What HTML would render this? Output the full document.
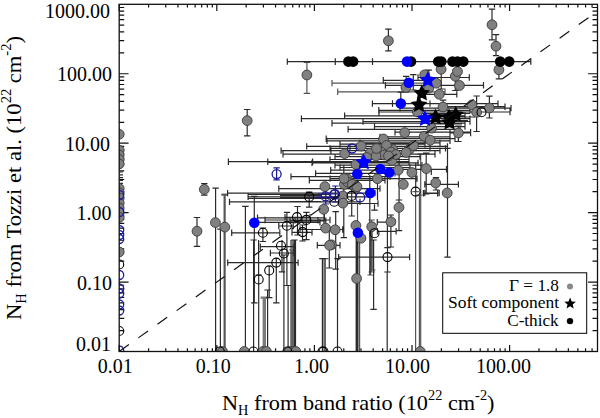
<!DOCTYPE html>
<html><head><meta charset="utf-8"><style>html,body{margin:0;padding:0;background:#fff;width:600px;height:418px;overflow:hidden}svg{display:block}</style></head>
<body><svg width="600" height="418" viewBox="0 0 600 418">
<defs><clipPath id="pc"><rect x="119.2" y="4.3" width="478.3" height="347.2"/></clipPath></defs>
<g font-family="Liberation Serif" fill="#000">
<path d="M119.20 351.5v-6.6M119.20 4.3v6.6M148.58 351.5v-3.3M148.58 4.3v3.3M165.77 351.5v-3.3M165.77 4.3v3.3M177.96 351.5v-3.3M177.96 4.3v3.3M187.42 351.5v-3.3M187.42 4.3v3.3M195.15 351.5v-3.3M195.15 4.3v3.3M201.68 351.5v-3.3M201.68 4.3v3.3M207.34 351.5v-3.3M207.34 4.3v3.3M212.33 351.5v-3.3M212.33 4.3v3.3M216.80 351.5v-6.6M216.80 4.3v6.6M246.18 351.5v-3.3M246.18 4.3v3.3M263.37 351.5v-3.3M263.37 4.3v3.3M275.56 351.5v-3.3M275.56 4.3v3.3M285.02 351.5v-3.3M285.02 4.3v3.3M292.75 351.5v-3.3M292.75 4.3v3.3M299.28 351.5v-3.3M299.28 4.3v3.3M304.94 351.5v-3.3M304.94 4.3v3.3M309.93 351.5v-3.3M309.93 4.3v3.3M314.40 351.5v-6.6M314.40 4.3v6.6M343.78 351.5v-3.3M343.78 4.3v3.3M360.97 351.5v-3.3M360.97 4.3v3.3M373.16 351.5v-3.3M373.16 4.3v3.3M382.62 351.5v-3.3M382.62 4.3v3.3M390.35 351.5v-3.3M390.35 4.3v3.3M396.88 351.5v-3.3M396.88 4.3v3.3M402.54 351.5v-3.3M402.54 4.3v3.3M407.53 351.5v-3.3M407.53 4.3v3.3M412.00 351.5v-6.6M412.00 4.3v6.6M441.38 351.5v-3.3M441.38 4.3v3.3M458.57 351.5v-3.3M458.57 4.3v3.3M470.76 351.5v-3.3M470.76 4.3v3.3M480.22 351.5v-3.3M480.22 4.3v3.3M487.95 351.5v-3.3M487.95 4.3v3.3M494.48 351.5v-3.3M494.48 4.3v3.3M500.14 351.5v-3.3M500.14 4.3v3.3M505.13 351.5v-3.3M505.13 4.3v3.3M509.60 351.5v-6.6M509.60 4.3v6.6M538.98 351.5v-3.3M538.98 4.3v3.3M556.17 351.5v-3.3M556.17 4.3v3.3M568.36 351.5v-3.3M568.36 4.3v3.3M577.82 351.5v-3.3M577.82 4.3v3.3M585.55 351.5v-3.3M585.55 4.3v3.3M592.08 351.5v-3.3M592.08 4.3v3.3M119.2 351.50h9.4M597.5 351.50h-9.4M119.2 330.60h5M597.5 330.60h-5M119.2 318.37h5M597.5 318.37h-5M119.2 309.69h5M597.5 309.69h-5M119.2 302.96h5M597.5 302.96h-5M119.2 297.47h5M597.5 297.47h-5M119.2 292.82h5M597.5 292.82h-5M119.2 288.79h5M597.5 288.79h-5M119.2 285.24h5M597.5 285.24h-5M119.2 282.06h9.4M597.5 282.06h-9.4M119.2 261.16h5M597.5 261.16h-5M119.2 248.93h5M597.5 248.93h-5M119.2 240.25h5M597.5 240.25h-5M119.2 233.52h5M597.5 233.52h-5M119.2 228.03h5M597.5 228.03h-5M119.2 223.38h5M597.5 223.38h-5M119.2 219.35h5M597.5 219.35h-5M119.2 215.80h5M597.5 215.80h-5M119.2 212.62h9.4M597.5 212.62h-9.4M119.2 191.72h5M597.5 191.72h-5M119.2 179.49h5M597.5 179.49h-5M119.2 170.81h5M597.5 170.81h-5M119.2 164.08h5M597.5 164.08h-5M119.2 158.59h5M597.5 158.59h-5M119.2 153.94h5M597.5 153.94h-5M119.2 149.91h5M597.5 149.91h-5M119.2 146.36h5M597.5 146.36h-5M119.2 143.18h9.4M597.5 143.18h-9.4M119.2 122.28h5M597.5 122.28h-5M119.2 110.05h5M597.5 110.05h-5M119.2 101.37h5M597.5 101.37h-5M119.2 94.64h5M597.5 94.64h-5M119.2 89.15h5M597.5 89.15h-5M119.2 84.50h5M597.5 84.50h-5M119.2 80.47h5M597.5 80.47h-5M119.2 76.92h5M597.5 76.92h-5M119.2 73.74h9.4M597.5 73.74h-9.4M119.2 52.84h5M597.5 52.84h-5M119.2 40.61h5M597.5 40.61h-5M119.2 31.93h5M597.5 31.93h-5M119.2 25.20h5M597.5 25.20h-5M119.2 19.71h5M597.5 19.71h-5M119.2 15.06h5M597.5 15.06h-5M119.2 11.03h5M597.5 11.03h-5M119.2 7.48h5M597.5 7.48h-5" stroke="#111" stroke-width="1.2" fill="none"/>
<g clip-path="url(#pc)"><path d="M224.6 194.6V351.5M221.4 194.6h6.4M264.8 297.6V351.5M261.6 297.6h6.4M263.8 297.6V351.5M260.6 297.6h6.4M291.3 240.0V351.5M293.5 240.0V351.5" stroke="#7a7a7a" stroke-width="2.4" fill="none"/>
<path d="M306.9 62.4V93.3M303.7 62.4h6.4M303.7 93.3h6.4M332.0 83.1H440.0M332.0 79.9v6.4M440.0 79.9v6.4M337.7 91.8H445.0M337.7 88.6v6.4M445.0 88.6v6.4M224.6 194.6V351.5M221.4 194.6h6.4M371.7 220.0V272.0M368.5 220.0h6.4M368.5 272.0h6.4M415.6 191.6V351.5M412.4 191.6h6.4M419.4 195.0V351.5M416.2 195.0h6.4M359.6 240.0V351.5M356.4 240.0h6.4M292.1 250.0V351.5M288.9 250.0h6.4M325.3 258.7V351.5M322.1 258.7h6.4M357.5 203.0V351.5M420.7 154.0V351.5M417.5 154.0h6.4M324.0 258.7V351.5M370.6 226.0V275.0M367.4 275.0h6.4M372.2 226.0V270.0M369.0 270.0h6.4" stroke="#555" stroke-width="1.2" fill="none"/>
<path d="M388.4 29.1V50.9M385.2 29.1h6.4M385.2 50.9h6.4M492.0 9.1V39.9M488.8 9.1h6.4M488.8 39.9h6.4M496.0 34.6V55.6M492.8 34.6h6.4M492.8 55.6h6.4M287.3 61.6H530.8M287.3 58.4v6.4M530.8 58.4v6.4M335.3 58.3V64.9M372.5 58.3V64.9M441.2 69.0V89.0M438.0 69.0h6.4M438.0 89.0h6.4M455.3 70.0V90.5M452.1 70.0h6.4M452.1 90.5h6.4M406.2 76.3V92.0M403.0 76.3h6.4M403.0 92.0h6.4M498.9 62.0V78.8M495.7 62.0h6.4M495.7 78.8h6.4M418.0 77.5H469.3M418.0 74.3v6.4M469.3 74.3v6.4M383.3 80.3H430.0M383.3 77.1v6.4M430.0 77.1v6.4M385.4 85.3H483.5M385.4 82.1v6.4M483.5 82.1v6.4M420.0 94.4H456.8M420.0 91.2v6.4M456.8 91.2v6.4M413.3 74.7V90.0M410.1 74.7h6.4M410.1 90.0h6.4M428.7 70.1V80.0M425.5 70.1h6.4M425.5 80.0h6.4M400.8 92.2V103.0M397.6 92.2h6.4M372.4 103.6H430.0M372.4 100.4v6.4M430.0 100.4v6.4M392.5 100.3V106.9M378.8 110.3H470.0M378.8 107.1v6.4M470.0 107.1v6.4M443.1 100.2V112.0M439.9 100.2h6.4M439.9 112.0h6.4M476.6 96.0V131.5M473.4 96.0h6.4M473.4 131.5h6.4M489.4 96.2V118.0M486.2 96.2h6.4M486.2 118.0h6.4M430.0 103.6H498.0M430.0 100.4v6.4M498.0 100.4v6.4M440.0 106.7H505.0M440.0 103.5v6.4M505.0 103.5v6.4M247.2 109.5V135.9M244.0 109.5h6.4M244.0 135.9h6.4M204.3 183.6V195.2M201.1 183.6h6.4M201.1 195.2h6.4M197.0 217.5V246.3M193.8 217.5h6.4M193.8 246.3h6.4M215.6 188.1V351.5M212.4 188.1h6.4M220.4 229.2V351.5M217.2 229.2h6.4M254.3 196.4V302.8M251.1 196.4h6.4M251.1 302.8h6.4M245.4 206.4V351.5M242.2 206.4h6.4M301.4 118.7H470.0M301.4 115.5v6.4M470.0 115.5v6.4M332.0 123.2H465.0M332.0 120.0v6.4M465.0 120.0v6.4M348.1 129.3H460.0M348.1 126.1v6.4M460.0 126.1v6.4M326.2 138.7H455.0M326.2 135.5v6.4M455.0 135.5v6.4M327.0 140.9H450.0M327.0 137.7v6.4M450.0 137.7v6.4M306.7 146.4H447.5M306.7 143.2v6.4M447.5 143.2v6.4M281.1 150.6H440.0M281.1 147.4v6.4M440.0 147.4v6.4M330.9 147.3V153.9M283.0 154.2H435.0M283.0 151.0v6.4M435.0 151.0v6.4M228.4 161.7H409.0M228.4 158.5v6.4M409.0 158.5v6.4M267.8 158.4V165.0M312.6 158.4V165.0M312.0 162.9H418.0M312.0 159.7v6.4M418.0 159.7v6.4M330.7 170.2H400.0M330.7 167.0v6.4M400.0 167.0v6.4M315.6 173.4H395.0M315.6 170.2v6.4M395.0 170.2v6.4M291.0 176.6H390.0M291.0 173.4v6.4M390.0 173.4v6.4M330.0 178.6H417.0M330.0 175.4v6.4M417.0 175.4v6.4M309.3 180.4H385.0M309.3 177.2v6.4M385.0 177.2v6.4M278.8 188.6H380.0M278.8 185.4v6.4M380.0 185.4v6.4M227.6 193.1H375.0M227.6 189.9v6.4M375.0 189.9v6.4M248.1 196.8H370.0M248.1 193.6v6.4M370.0 193.6v6.4M229.5 201.9H360.0M229.5 198.7v6.4M360.0 198.7v6.4M340.0 203.5H378.0M340.0 200.3v6.4M378.0 200.3v6.4M400.0 169.3H446.5M400.0 166.1v6.4M446.5 166.1v6.4M330.0 148.4H445.5M330.0 145.2v6.4M445.5 145.2v6.4M344.6 115.8H465.0M344.6 112.6v6.4M465.0 112.6v6.4M379.0 112.0H510.0M379.0 108.8v6.4M510.0 108.8v6.4M400.0 108.1H511.0M400.0 104.9v6.4M511.0 104.9v6.4M363.0 121.5H470.0M363.0 118.3v6.4M470.0 118.3v6.4M395.0 132.2H470.6M395.0 129.0v6.4M470.6 129.0v6.4M374.5 126.6H465.0M374.5 123.4v6.4M465.0 123.4v6.4M380.0 136.9H450.0M380.0 133.7v6.4M450.0 133.7v6.4M360.0 142.9H440.0M360.0 139.7v6.4M440.0 139.7v6.4M350.0 148.3H430.0M350.0 145.1v6.4M430.0 145.1v6.4M340.0 144.2H425.0M340.0 141.0v6.4M425.0 141.0v6.4M335.0 156.6H420.0M335.0 153.4v6.4M420.0 153.4v6.4M330.0 159.5H409.0M330.0 156.3v6.4M409.0 156.3v6.4M335.0 165.2H422.0M335.0 162.0v6.4M422.0 162.0v6.4M340.0 167.5H410.0M340.0 164.3v6.4M410.0 164.3v6.4M458.4 126.0V141.5M455.2 126.0h6.4M455.2 141.5h6.4M450.0 133.0H470.6M450.0 129.8v6.4M470.6 129.8v6.4M399.0 200.0V230.7M395.8 200.0h6.4M395.8 230.7h6.4M390.9 215.0V247.0M387.7 215.0h6.4M387.7 247.0h6.4M447.5 148.4V257.1M444.3 148.4h6.4M444.3 257.1h6.4M338.6 257.1H409.6M338.6 253.9v6.4M409.6 253.9v6.4M357.9 232.7V351.5M354.7 232.7h6.4M343.8 165.0V237.6M340.6 165.0h6.4M340.6 237.6h6.4M335.7 211.7V269.2M332.5 211.7h6.4M332.5 269.2h6.4M387.5 247.6V272.0M384.3 247.6h6.4M384.3 272.0h6.4M373.6 240.0V309.3M370.4 240.0h6.4M370.4 309.3h6.4M377.4 231.3H396.1M377.4 228.1v6.4M396.1 228.1v6.4M424.8 184.4H458.4M424.8 181.2v6.4M458.4 181.2v6.4M424.8 193.0H439.2M424.8 189.8v6.4M439.2 189.8v6.4M258.7 275.0V351.5M255.5 275.0h6.4M276.3 258.0V302.8M273.1 302.8h6.4M269.2 266.0V297.6M266.0 297.6h6.4M262.9 228.0V241.5M259.7 228.0h6.4M259.7 241.5h6.4M286.9 212.3V285.5M283.7 212.3h6.4M283.7 285.5h6.4M231.7 232.8H279.8M231.7 229.6v6.4M279.8 229.6v6.4M227.7 262.6H298.1M227.7 259.4v6.4M298.1 259.4v6.4M257.5 217.8H324.4M257.5 214.6v6.4M324.4 214.6v6.4M265.0 220.0H330.0M265.0 216.8v6.4M330.0 216.8v6.4M257.5 222.3H320.0M257.5 219.1v6.4M320.0 219.1v6.4M253.6 240.0V351.5M250.4 240.0h6.4M267.6 290.0V351.5M264.4 290.0h6.4M283.9 255.0V351.5M280.7 255.0h6.4M288.1 285.5V351.5M284.9 285.5h6.4M294.4 240.0V351.5M291.2 240.0h6.4M322.4 258.7V351.5M319.2 258.7h6.4M337.5 258.7V351.5M334.3 258.7h6.4M356.8 232.0V351.5M353.6 232.0h6.4M356.2 232.0V351.5M353.0 232.0h6.4M351.7 189.0V216.0M348.5 189.0h6.4M348.5 216.0h6.4M369.8 175.0V275.0M374.5 204.3V210.2M371.3 210.2h6.4M377.5 180.0V200.0M387.4 175.0V247.0M399.1 150.0V200.0M415.7 163.0V191.6M412.5 163.0h6.4M426.2 153.0V194.0M423.0 153.0h6.4M423.0 194.0h6.4M431.3 170.0V175.0M436.0 177.7V190.0M432.8 177.7h6.4M432.8 190.0h6.4M423.4 193.3H437.6M423.4 190.1v6.4M437.6 190.1v6.4M258.6 240.0V275.0M282.0 240.0V271.8M278.8 271.8h6.4M270.4 253.0H293.8M270.4 249.8v6.4M293.8 249.8v6.4M260.3 246.7H293.8M260.3 243.5v6.4M293.8 243.5v6.4M317.3 245.3H340.0M317.3 242.1v6.4M340.0 242.1v6.4M300.0 229.5H342.7M300.0 226.3v6.4M342.7 226.3v6.4M377.3 222.1H394.7M377.3 218.9v6.4M394.7 218.9v6.4M329.3 230.0V268.0M326.1 230.0h6.4M326.1 268.0h6.4M295.5 240.0V351.5M420.0 113.5H470.0M425.0 117.0H475.0M428.0 120.5H468.0M432.0 124.0H462.0M387.2 272.0V351.5M267.8 162.4H409.0M119.2 172.0H123.0M119.2 174.8H123.0M119.2 177.7H123.0M119.2 180.5H123.0M119.2 183.4H123.0M280.0 195.5H322.0M280.0 198.0H322.0M309.2 192.0V207.1M306.0 192.0h6.4M306.0 207.1h6.4M290.0 201.7H321.0M290.0 220.8H325.8M290.0 217.6v6.4M325.8 217.6v6.4M324.0 209.5V227.4M297.5 206.5V235.0M294.3 206.5h6.4M294.3 235.0h6.4M306.4 212.3V239.6M303.2 212.3h6.4M303.2 239.6h6.4M302.5 225.0V241.0M299.3 225.0h6.4M299.3 241.0h6.4M285.0 217.3H310.0M285.0 214.1v6.4M310.0 214.1v6.4M295.0 220.2H318.0M295.0 217.0v6.4M318.0 217.0v6.4M278.8 226.0H293.2M278.8 222.8v6.4M293.2 222.8v6.4M292.0 232.4H312.0M292.0 229.2v6.4M312.0 229.2v6.4M248.6 194.5H330.0M248.6 198.5H330.0" stroke="#2a2a2a" stroke-width="1.2" fill="none"/>
<path d="M276.6 167.8V179.9M273.4 167.8h6.4M273.4 179.9h6.4M318.0 194.0H345.0M316.0 197.3H340.0M325.8 188.0V204.0M322.6 188.0h6.4M322.6 204.0h6.4M335.4 186.0V202.0M332.2 186.0h6.4M332.2 202.0h6.4" stroke="#1a1a8a" stroke-width="1.2" fill="none"/>
<circle cx="388.4" cy="40.8" r="4.9" fill="#808080" stroke="#3a3a3a" stroke-width="0.9"/><circle cx="492" cy="24.8" r="4.9" fill="#808080" stroke="#3a3a3a" stroke-width="0.9"/><circle cx="496" cy="46.2" r="4.9" fill="#808080" stroke="#3a3a3a" stroke-width="0.9"/><circle cx="306.9" cy="75.0" r="4.9" fill="#808080" stroke="#3a3a3a" stroke-width="0.9"/><circle cx="441.1" cy="69.3" r="4.9" fill="#808080" stroke="#3a3a3a" stroke-width="0.9"/><circle cx="455.3" cy="76.2" r="4.9" fill="#808080" stroke="#3a3a3a" stroke-width="0.9"/><circle cx="459.5" cy="85.5" r="4.9" fill="#808080" stroke="#3a3a3a" stroke-width="0.9"/><circle cx="436.3" cy="83.2" r="4.9" fill="#808080" stroke="#3a3a3a" stroke-width="0.9"/><circle cx="439.3" cy="94.3" r="4.9" fill="#808080" stroke="#3a3a3a" stroke-width="0.9"/><circle cx="424.7" cy="74.8" r="4.9" fill="#808080" stroke="#3a3a3a" stroke-width="0.9"/><circle cx="428.7" cy="88.2" r="4.9" fill="#808080" stroke="#3a3a3a" stroke-width="0.9"/><circle cx="405.9" cy="87.5" r="4.9" fill="#808080" stroke="#3a3a3a" stroke-width="0.9"/><circle cx="498.9" cy="69.8" r="4.9" fill="#808080" stroke="#3a3a3a" stroke-width="0.9"/><circle cx="443" cy="107" r="4.9" fill="#808080" stroke="#3a3a3a" stroke-width="0.9"/><circle cx="471.9" cy="104.9" r="4.9" fill="#808080" stroke="#3a3a3a" stroke-width="0.9"/><circle cx="476.6" cy="112.3" r="4.9" fill="#808080" stroke="#3a3a3a" stroke-width="0.9"/><circle cx="489.4" cy="108" r="4.9" fill="#808080" stroke="#3a3a3a" stroke-width="0.9"/><circle cx="417.4" cy="112" r="4.9" fill="#808080" stroke="#3a3a3a" stroke-width="0.9"/><circle cx="119.2" cy="134.3" r="4.9" fill="#808080" stroke="#3a3a3a" stroke-width="0.9"/><circle cx="119.2" cy="150.3" r="4.9" fill="#808080" stroke="#3a3a3a" stroke-width="0.9"/><circle cx="119.2" cy="155" r="4.9" fill="#808080" stroke="#3a3a3a" stroke-width="0.9"/><circle cx="119.2" cy="159.5" r="4.9" fill="#808080" stroke="#3a3a3a" stroke-width="0.9"/><circle cx="119.2" cy="164" r="4.9" fill="#808080" stroke="#3a3a3a" stroke-width="0.9"/><circle cx="119.2" cy="188.5" r="4.9" fill="#808080" stroke="#3a3a3a" stroke-width="0.9"/><circle cx="119.2" cy="193" r="4.9" fill="#808080" stroke="#3a3a3a" stroke-width="0.9"/><circle cx="119.2" cy="198" r="4.9" fill="#808080" stroke="#3a3a3a" stroke-width="0.9"/><circle cx="119.2" cy="203" r="4.9" fill="#808080" stroke="#3a3a3a" stroke-width="0.9"/><circle cx="119.2" cy="208" r="4.9" fill="#808080" stroke="#3a3a3a" stroke-width="0.9"/><circle cx="119.2" cy="212.5" r="4.9" fill="#808080" stroke="#3a3a3a" stroke-width="0.9"/><circle cx="119.2" cy="217.5" r="4.9" fill="#808080" stroke="#3a3a3a" stroke-width="0.9"/><circle cx="119.2" cy="252" r="4.9" fill="#808080" stroke="#3a3a3a" stroke-width="0.9"/><circle cx="247.2" cy="120.6" r="4.9" fill="#808080" stroke="#3a3a3a" stroke-width="0.9"/><circle cx="204.3" cy="189.4" r="4.9" fill="#808080" stroke="#3a3a3a" stroke-width="0.9"/><circle cx="197" cy="231.2" r="4.9" fill="#808080" stroke="#3a3a3a" stroke-width="0.9"/><circle cx="215.4" cy="222.6" r="4.9" fill="#808080" stroke="#3a3a3a" stroke-width="0.9"/><circle cx="224.8" cy="227.1" r="4.9" fill="#808080" stroke="#3a3a3a" stroke-width="0.9"/><circle cx="431.6" cy="128.2" r="4.9" fill="#808080" stroke="#3a3a3a" stroke-width="0.9"/><circle cx="424.2" cy="136.2" r="4.9" fill="#808080" stroke="#3a3a3a" stroke-width="0.9"/><circle cx="430.2" cy="140.2" r="4.9" fill="#808080" stroke="#3a3a3a" stroke-width="0.9"/><circle cx="404.7" cy="132.6" r="4.9" fill="#808080" stroke="#3a3a3a" stroke-width="0.9"/><circle cx="458.4" cy="133" r="4.9" fill="#808080" stroke="#3a3a3a" stroke-width="0.9"/><circle cx="392.7" cy="149.6" r="4.9" fill="#808080" stroke="#3a3a3a" stroke-width="0.9"/><circle cx="409.4" cy="149.5" r="4.9" fill="#808080" stroke="#3a3a3a" stroke-width="0.9"/><circle cx="413.5" cy="145.6" r="4.9" fill="#808080" stroke="#3a3a3a" stroke-width="0.9"/><circle cx="344.7" cy="153.6" r="4.9" fill="#808080" stroke="#3a3a3a" stroke-width="0.9"/><circle cx="361.2" cy="146.1" r="4.9" fill="#808080" stroke="#3a3a3a" stroke-width="0.9"/><circle cx="370.2" cy="153.1" r="4.9" fill="#808080" stroke="#3a3a3a" stroke-width="0.9"/><circle cx="383.5" cy="139" r="4.9" fill="#808080" stroke="#3a3a3a" stroke-width="0.9"/><circle cx="386.5" cy="145.5" r="4.9" fill="#808080" stroke="#3a3a3a" stroke-width="0.9"/><circle cx="381.3" cy="152.1" r="4.9" fill="#808080" stroke="#3a3a3a" stroke-width="0.9"/><circle cx="384.3" cy="155" r="4.9" fill="#808080" stroke="#3a3a3a" stroke-width="0.9"/><circle cx="376" cy="156" r="4.9" fill="#808080" stroke="#3a3a3a" stroke-width="0.9"/><circle cx="356" cy="164.5" r="4.9" fill="#808080" stroke="#3a3a3a" stroke-width="0.9"/><circle cx="398.3" cy="170.1" r="4.9" fill="#808080" stroke="#3a3a3a" stroke-width="0.9"/><circle cx="411.9" cy="172.5" r="4.9" fill="#808080" stroke="#3a3a3a" stroke-width="0.9"/><circle cx="426.3" cy="168.6" r="4.9" fill="#808080" stroke="#3a3a3a" stroke-width="0.9"/><circle cx="403.3" cy="184.4" r="4.9" fill="#808080" stroke="#3a3a3a" stroke-width="0.9"/><circle cx="435.7" cy="183" r="4.9" fill="#808080" stroke="#3a3a3a" stroke-width="0.9"/><circle cx="447.2" cy="193" r="4.9" fill="#808080" stroke="#3a3a3a" stroke-width="0.9"/><circle cx="377.4" cy="178.7" r="4.9" fill="#808080" stroke="#3a3a3a" stroke-width="0.9"/><circle cx="347.2" cy="178.7" r="4.9" fill="#808080" stroke="#3a3a3a" stroke-width="0.9"/><circle cx="344.4" cy="184.4" r="4.9" fill="#808080" stroke="#3a3a3a" stroke-width="0.9"/><circle cx="355.9" cy="188.2" r="4.9" fill="#808080" stroke="#3a3a3a" stroke-width="0.9"/><circle cx="342.9" cy="195.9" r="4.9" fill="#808080" stroke="#3a3a3a" stroke-width="0.9"/><circle cx="342.9" cy="203.1" r="4.9" fill="#808080" stroke="#3a3a3a" stroke-width="0.9"/><circle cx="399" cy="207.4" r="4.9" fill="#808080" stroke="#3a3a3a" stroke-width="0.9"/><circle cx="390.9" cy="221.8" r="4.9" fill="#808080" stroke="#3a3a3a" stroke-width="0.9"/><circle cx="371.7" cy="226.7" r="4.9" fill="#808080" stroke="#3a3a3a" stroke-width="0.9"/><circle cx="355.9" cy="225.5" r="4.9" fill="#808080" stroke="#3a3a3a" stroke-width="0.9"/><circle cx="361" cy="238.2" r="4.9" fill="#808080" stroke="#3a3a3a" stroke-width="0.9"/><circle cx="335.2" cy="229.8" r="4.9" fill="#808080" stroke="#3a3a3a" stroke-width="0.9"/><circle cx="331.4" cy="244.8" r="4.9" fill="#808080" stroke="#3a3a3a" stroke-width="0.9"/><circle cx="356.6" cy="278.5" r="4.9" fill="#808080" stroke="#3a3a3a" stroke-width="0.9"/><circle cx="324.9" cy="186.6" r="4.9" fill="#808080" stroke="#3a3a3a" stroke-width="0.9"/><circle cx="323.7" cy="209.3" r="4.9" fill="#808080" stroke="#3a3a3a" stroke-width="0.9"/><circle cx="325.6" cy="228.1" r="4.9" fill="#808080" stroke="#3a3a3a" stroke-width="0.9"/><circle cx="329.6" cy="245.3" r="4.9" fill="#808080" stroke="#3a3a3a" stroke-width="0.9"/><circle cx="222.5" cy="351.5" r="4.9" fill="#808080" stroke="#3a3a3a" stroke-width="0.9"/><circle cx="244.3" cy="351.5" r="4.9" fill="#808080" stroke="#3a3a3a" stroke-width="0.9"/><circle cx="263" cy="351.5" r="4.9" fill="#808080" stroke="#3a3a3a" stroke-width="0.9"/><circle cx="266.4" cy="351.5" r="4.9" fill="#808080" stroke="#3a3a3a" stroke-width="0.9"/><circle cx="293.2" cy="351.5" r="4.9" fill="#808080" stroke="#3a3a3a" stroke-width="0.9"/><circle cx="420.2" cy="351.5" r="4.9" fill="#808080" stroke="#3a3a3a" stroke-width="0.9"/><circle cx="457.5" cy="71.5" r="4.9" fill="#808080" stroke="#3a3a3a" stroke-width="0.9"/><circle cx="392" cy="160.5" r="4.9" fill="#808080" stroke="#3a3a3a" stroke-width="0.9"/><circle cx="406.1" cy="152.5" r="4.9" fill="#808080" stroke="#3a3a3a" stroke-width="0.9"/><circle cx="391" cy="152" r="4.9" fill="#808080" stroke="#3a3a3a" stroke-width="0.9"/><circle cx="347.6" cy="182" r="4.9" fill="#808080" stroke="#3a3a3a" stroke-width="0.9"/><circle cx="352.3" cy="184.4" r="4.9" fill="#808080" stroke="#3a3a3a" stroke-width="0.9"/><circle cx="357" cy="186.7" r="4.9" fill="#808080" stroke="#3a3a3a" stroke-width="0.9"/><circle cx="344" cy="178.5" r="4.9" fill="#808080" stroke="#3a3a3a" stroke-width="0.9"/><circle cx="289.3" cy="351.5" r="4.9" fill="#808080" stroke="#3a3a3a" stroke-width="0.9"/><circle cx="295.8" cy="351.5" r="4.9" fill="#808080" stroke="#3a3a3a" stroke-width="0.9"/><circle cx="396" cy="154.5" r="4.9" fill="#808080" stroke="#3a3a3a" stroke-width="0.9"/><circle cx="376.5" cy="148.5" r="4.9" fill="#808080" stroke="#3a3a3a" stroke-width="0.9"/><circle cx="388.5" cy="156" r="4.9" fill="#808080" stroke="#3a3a3a" stroke-width="0.9"/><circle cx="366.5" cy="157.5" r="4.9" fill="#808080" stroke="#3a3a3a" stroke-width="0.9"/>
<circle cx="481.5" cy="112.2" r="4.5" fill="none" stroke="#000" stroke-width="1.1"/><circle cx="119.2" cy="264.5" r="4.5" fill="none" stroke="#000" stroke-width="1.1"/><circle cx="119.2" cy="331" r="4.5" fill="none" stroke="#000" stroke-width="1.1"/><circle cx="415.6" cy="191.6" r="4.5" fill="none" stroke="#000" stroke-width="1.1"/><circle cx="351.6" cy="195.9" r="4.5" fill="none" stroke="#000" stroke-width="1.1"/><circle cx="334.3" cy="201.7" r="4.5" fill="none" stroke="#000" stroke-width="1.1"/><circle cx="374.5" cy="233.3" r="4.5" fill="none" stroke="#000" stroke-width="1.1"/><circle cx="387.5" cy="257.1" r="4.5" fill="none" stroke="#000" stroke-width="1.1"/><circle cx="262.9" cy="232.8" r="4.5" fill="none" stroke="#000" stroke-width="1.1"/><circle cx="286.9" cy="225.8" r="4.5" fill="none" stroke="#000" stroke-width="1.1"/><circle cx="297" cy="217.1" r="4.5" fill="none" stroke="#000" stroke-width="1.1"/><circle cx="306.3" cy="219.9" r="4.5" fill="none" stroke="#000" stroke-width="1.1"/><circle cx="302.6" cy="232.1" r="4.5" fill="none" stroke="#000" stroke-width="1.1"/><circle cx="309.2" cy="196.9" r="4.5" fill="none" stroke="#000" stroke-width="1.1"/><circle cx="281" cy="245.7" r="4.5" fill="none" stroke="#000" stroke-width="1.1"/><circle cx="283.8" cy="253.5" r="4.5" fill="none" stroke="#000" stroke-width="1.1"/><circle cx="276.3" cy="262.6" r="4.5" fill="none" stroke="#000" stroke-width="1.1"/><circle cx="269.2" cy="270.4" r="4.5" fill="none" stroke="#000" stroke-width="1.1"/><circle cx="258.7" cy="279.5" r="4.5" fill="none" stroke="#000" stroke-width="1.1"/><circle cx="219.8" cy="351.5" r="4.5" fill="none" stroke="#000" stroke-width="1.1"/><circle cx="253.4" cy="351.5" r="4.5" fill="none" stroke="#000" stroke-width="1.1"/><circle cx="287.4" cy="351.5" r="4.5" fill="none" stroke="#000" stroke-width="1.1"/><circle cx="322.4" cy="351.5" r="4.5" fill="none" stroke="#000" stroke-width="1.1"/><circle cx="337.5" cy="351.5" r="4.5" fill="none" stroke="#000" stroke-width="1.1"/><circle cx="323.5" cy="351.5" r="4.5" fill="none" stroke="#000" stroke-width="1.1"/>
<circle cx="119.2" cy="195" r="4.5" fill="none" stroke="#1a1aa0" stroke-width="1.3"/><circle cx="119.2" cy="212" r="4.5" fill="none" stroke="#1a1aa0" stroke-width="1.3"/><circle cx="119.2" cy="230" r="4.5" fill="none" stroke="#1a1aa0" stroke-width="1.3"/><circle cx="119.2" cy="235" r="4.5" fill="none" stroke="#1a1aa0" stroke-width="1.3"/><circle cx="119.2" cy="239" r="4.5" fill="none" stroke="#1a1aa0" stroke-width="1.3"/><circle cx="119.2" cy="275" r="4.5" fill="none" stroke="#1a1aa0" stroke-width="1.3"/><circle cx="119.2" cy="288.5" r="4.5" fill="none" stroke="#1a1aa0" stroke-width="1.3"/><circle cx="119.2" cy="293.5" r="4.5" fill="none" stroke="#1a1aa0" stroke-width="1.3"/><circle cx="119.2" cy="304.5" r="4.5" fill="none" stroke="#1a1aa0" stroke-width="1.3"/><circle cx="119.2" cy="310.5" r="4.5" fill="none" stroke="#1a1aa0" stroke-width="1.3"/><circle cx="119.2" cy="350.5" r="4.5" fill="none" stroke="#1a1aa0" stroke-width="1.3"/><circle cx="276.6" cy="174.1" r="4.5" fill="none" stroke="#1a1aa0" stroke-width="1.3"/><circle cx="360.2" cy="197.4" r="4.5" fill="none" stroke="#1a1aa0" stroke-width="1.3"/><circle cx="334.3" cy="194.5" r="4.5" fill="none" stroke="#1a1aa0" stroke-width="1.3"/><circle cx="325.6" cy="196.4" r="4.5" fill="none" stroke="#1a1aa0" stroke-width="1.3"/><circle cx="335" cy="194.1" r="4.5" fill="none" stroke="#1a1aa0" stroke-width="1.3"/><circle cx="352" cy="148.5" r="4.5" fill="none" stroke="#1a1aa0" stroke-width="1.3"/>
<circle cx="348.4" cy="61.6" r="5.3" fill="#000"/><circle cx="353.1" cy="61.6" r="5.3" fill="#000"/><circle cx="411" cy="61.6" r="5.3" fill="#000"/><circle cx="438.3" cy="61.6" r="5.3" fill="#000"/><circle cx="441.3" cy="61.6" r="5.3" fill="#000"/><circle cx="452.5" cy="61.6" r="5.3" fill="#000"/><circle cx="457.5" cy="61.6" r="5.3" fill="#000"/><circle cx="463.3" cy="61.6" r="5.3" fill="#000"/><circle cx="500.2" cy="61.6" r="5.3" fill="#000"/><circle cx="509.2" cy="61.6" r="5.3" fill="#000"/>
<circle cx="408.7" cy="82.7" r="5.3" fill="#0000ff"/><circle cx="400.8" cy="103.5" r="5.3" fill="#0000ff"/><circle cx="254.3" cy="222.8" r="5.3" fill="#0000ff"/><circle cx="380.3" cy="169" r="5.3" fill="#0000ff"/><circle cx="389.3" cy="172.5" r="5.3" fill="#0000ff"/><circle cx="357.3" cy="174" r="5.3" fill="#0000ff"/><circle cx="370.2" cy="193" r="5.3" fill="#0000ff"/><circle cx="357.9" cy="232.7" r="5.3" fill="#0000ff"/><circle cx="407" cy="61.6" r="5.3" fill="#0000ff"/>
<path d="M421.80,84.50 L424.39,89.74 L430.17,90.58 L425.98,94.66 L426.97,100.42 L421.80,97.70 L416.63,100.42 L417.62,94.66 L413.43,90.58 L419.21,89.74Z" fill="#000"/><path d="M419.00,96.00 L421.59,101.24 L427.37,102.08 L423.18,106.16 L424.17,111.92 L419.00,109.20 L413.83,111.92 L414.82,106.16 L410.63,102.08 L416.41,101.24Z" fill="#000"/><path d="M435.60,108.60 L438.19,113.84 L443.97,114.68 L439.78,118.76 L440.77,124.52 L435.60,121.80 L430.43,124.52 L431.42,118.76 L427.23,114.68 L433.01,113.84Z" fill="#000"/><path d="M449.00,108.60 L451.59,113.84 L457.37,114.68 L453.18,118.76 L454.17,124.52 L449.00,121.80 L443.83,124.52 L444.82,118.76 L440.63,114.68 L446.41,113.84Z" fill="#000"/><path d="M455.70,105.90 L458.29,111.14 L464.07,111.98 L459.88,116.06 L460.87,121.82 L455.70,119.10 L450.53,121.82 L451.52,116.06 L447.33,111.98 L453.11,111.14Z" fill="#000"/><path d="M449.50,113.70 L452.09,118.94 L457.87,119.78 L453.68,123.86 L454.67,129.62 L449.50,126.90 L444.33,129.62 L445.32,123.86 L441.13,119.78 L446.91,118.94Z" fill="#000"/>
<path d="M427.80,71.30 L430.39,76.54 L436.17,77.38 L431.98,81.46 L432.97,87.22 L427.80,84.50 L422.63,87.22 L423.62,81.46 L419.43,77.38 L425.21,76.54Z" fill="#0000ff"/><path d="M425.00,110.00 L427.59,115.24 L433.37,116.08 L429.18,120.16 L430.17,125.92 L425.00,123.20 L419.83,125.92 L420.82,120.16 L416.63,116.08 L422.41,115.24Z" fill="#0000ff"/><path d="M363.70,153.60 L366.29,158.84 L372.07,159.68 L367.88,163.76 L368.87,169.52 L363.70,166.80 L358.53,169.52 L359.52,163.76 L355.33,159.68 L361.11,158.84Z" fill="#0000ff"/>
</g>
<path d="M119.20 351.50L597.74 11.03" stroke="#111" stroke-width="1.2" stroke-dasharray="11.9 11.6" fill="none"/>
<rect x="119.2" y="4.3" width="478.3" height="347.2" fill="none" stroke="#111" stroke-width="1.3"/>
<g font-size="20" text-anchor="end">
<text x="110" y="18">1000.00</text>
<text x="112" y="81.3">100.00</text>
<text x="110" y="151">10.00</text>
<text x="111.5" y="220.4">1.00</text>
<text x="112" y="289.7">0.10</text>
<text x="111" y="351.3">0.01</text>
</g>
<g font-size="20" text-anchor="middle">
<text x="115.3" y="373">0.01</text>
<text x="213.3" y="373">0.10</text>
<text x="311.5" y="373">1.00</text>
<text x="407.4" y="373">10.00</text>
<text x="503.4" y="373">100.00</text>
</g>
<text x="222" y="410" font-size="21.8" textLength="272.5" lengthAdjust="spacingAndGlyphs">N<tspan font-size="14" dy="5">H</tspan><tspan dy="-5"> from band ratio (10</tspan><tspan font-size="14" dy="-10">22</tspan><tspan dy="10"> cm</tspan><tspan font-size="14" dy="-10">-2</tspan><tspan dy="10">)</tspan></text>
<text transform="translate(21.3,320) rotate(-90)" font-size="21.8" textLength="284" lengthAdjust="spacingAndGlyphs">N<tspan font-size="14" dy="5">H</tspan><tspan dy="-5"> from Tozzi et al. (10</tspan><tspan font-size="14" dy="-10">22</tspan><tspan dy="10"> cm</tspan><tspan font-size="14" dy="-10">-2</tspan><tspan dy="10">)</tspan></text>
<rect x="442.7" y="272.8" width="144" height="60.5" fill="#fff" stroke="#000" stroke-width="1"/>
<g font-size="16.3" text-anchor="end">
<text x="559" y="290.7" textLength="50" lengthAdjust="spacingAndGlyphs">&#915; = 1.8</text>
<text x="559" y="307.7" textLength="111" lengthAdjust="spacingAndGlyphs">Soft component</text>
<text x="558.7" y="325.5" textLength="51.5" lengthAdjust="spacingAndGlyphs">C-thick</text>
</g>
<circle cx="570" cy="286.4" r="3" fill="#888"/>
<circle cx="570" cy="321.1" r="3.2" fill="#000"/>
<path d="M570.10,297.50 L571.69,301.42 L575.90,301.71 L572.67,304.43 L573.69,308.54 L570.10,306.30 L566.51,308.54 L567.53,304.43 L564.30,301.71 L568.51,301.42Z" fill="#000"/>
</g>
</svg></body></html>
